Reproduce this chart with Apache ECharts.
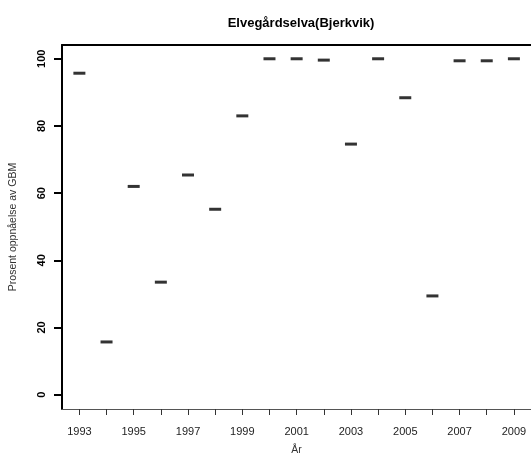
<!DOCTYPE html>
<html>
<head>
<meta charset="utf-8">
<script src="https://cdn.jsdelivr.net/npm/echarts@6/dist/echarts.min.js"></script>
<style>
  html, body { margin: 0; padding: 0; background: #fff; }
  #chart { width: 531px; height: 462px; }
</style>
</head>
<body>
<div id="chart"></div>
<script>
// år og prosent oppnåelse av GBM
var years = [1993, 1994, 1995, 1996, 1997, 1998, 1999, 2000, 2001, 2002,
             2003, 2004, 2005, 2006, 2007, 2008, 2009];
var values = [95.7, 15.7, 62, 33.5, 65.4, 55.2, 83, 100, 100, 99.6,
              74.6, 100, 88.4, 29.4, 99.4, 99.4, 100];
var labelYears = [1993, 1995, 1997, 1999, 2001, 2003, 2005, 2007, 2009];
var yTicks = [0, 20, 40, 60, 80, 100];

var points = years.map(function (y, i) { return [y, values[i]]; });

var mychart = echarts.init(document.getElementById('chart'));
var font = 'Liberation Sans, Arial, sans-serif';
var option = {
    animation: false,
    title: {
        text: 'Elvegårdselva(Bjerkvik)',
        left: 296,
        textAlign: 'center',
        top: 12,
        textStyle: { fontFamily: font, fontSize: 13, fontWeight: 'bold', color: '#000' }
    },
    grid: { left: 62, top: 45, right: 0, bottom: 53 },
    xAxis: [{
        type: 'value',
        min: 1992.36,
        max: 2009.63,
        name: 'År',
        nameLocation: 'middle',
        nameGap: 36,
        nameTextStyle: { fontFamily: font, fontSize: 10.5, color: '#333' },
        splitLine: { show: false },
        axisLine: { show: true, onZero: false, lineStyle: { color: '#555', width: 1 } },
        axisTick: { show: true, length: 6, customValues: years, lineStyle: { color: '#333', width: 1 } },
        axisLabel: {
            customValues: labelYears,
            margin: 17,
            fontFamily: font, fontSize: 11, color: '#222',
            formatter: function (v) { return String(v); }
        }
    }, {
        type: 'value',
        position: 'top',
        min: 1992.36,
        max: 2009.63,
        splitLine: { show: false },
        axisLine: { show: true, onZero: false, lineStyle: { color: '#000', width: 2 } },
        axisTick: { show: false },
        axisLabel: { show: false }
    }],
    yAxis: {
        type: 'value',
        min: -4.26,
        max: 104.1,
        name: 'Prosent oppnåelse av GBM',
        nameLocation: 'middle',
        nameGap: 43,
        nameTextStyle: { fontFamily: font, fontSize: 10.5, color: '#333' },
        splitLine: { show: false },
        axisLine: { show: true, onZero: false, lineStyle: { color: '#000', width: 2 } },
        axisTick: { show: true, length: 8, customValues: yTicks, lineStyle: { color: '#000', width: 2 } },
        axisLabel: {
            customValues: yTicks,
            rotate: 90,
            margin: 15,
            fontFamily: font, fontSize: 11, fontWeight: 'bold', color: '#000'
        }
    },
    series: [{
        type: 'scatter',
        data: points,
        symbol: 'rect',
        symbolSize: [12, 3],
        itemStyle: { color: '#000' }
    }]
};
mychart.setOption(option);
</script>
</body>
</html>
